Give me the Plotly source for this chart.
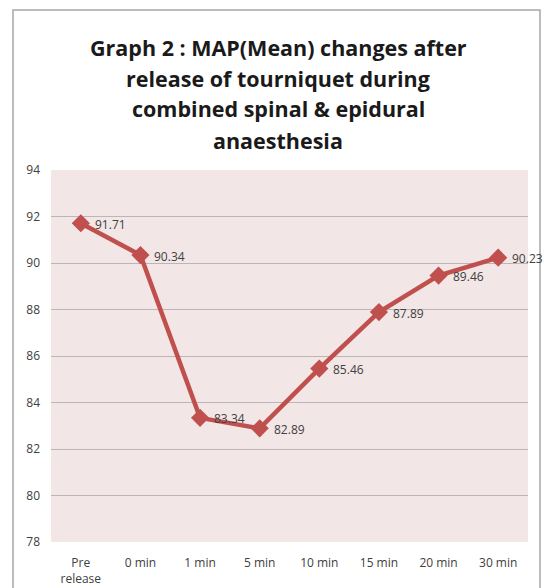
import plotly.graph_objects as go

# Time points after tourniquet release and mean arterial pressure values
categories = ["Pre<br>release", "0 min", "1 min", "5 min", "10 min", "15 min", "20 min", "30 min"]
map_values = [91.71, 90.34, 83.34, 82.89, 85.46, 87.89, 89.46, 90.23]
y_ticks = [78, 80, 82, 84, 86, 88, 90, 92, 94]
title_lines = [
    "Graph 2 : MAP(Mean) changes after",
    "release of tourniquet during",
    "combined spinal &amp; epidural",
    "anaesthesia",
]

W, H = 544, 588
ML, MR, MT, MB = 51, 16, 170, 46
pw = W - ML - MR
ph = H - MT - MB
FONT = "Open Sans, sans-serif"

def px_to_paper_x(px):
    return (px - ML) / pw

def px_to_paper_y(py):
    return (H - MB - py) / ph

fig = go.Figure()
fig.add_trace(go.Scatter(
    x=list(range(len(categories))),
    y=map_values,
    mode="lines+markers",
    line=dict(color="#C0504D", width=4.5),
    marker=dict(symbol="diamond", size=14, color="#C0504D"),
    showlegend=False,
))

# Value labels to the right of each point
for i, v in enumerate(map_values):
    fig.add_annotation(
        x=i, y=v, xref="x", yref="y",
        text=f"{v:.2f}", showarrow=False,
        xanchor="left", yanchor="middle",
        xshift=12, yshift=-1,
        font=dict(family=FONT, size=12, color="#404040"),
    )

# Outer chart frame
fig.add_shape(
    type="rect", xref="paper", yref="paper",
    x0=px_to_paper_x(13), x1=px_to_paper_x(540),
    y0=px_to_paper_y(600), y1=px_to_paper_y(10),
    line=dict(color="#A6A6A6", width=1.5), fillcolor="rgba(0,0,0,0)",
    layer="below",
)

# Title, one line per annotation for wider line spacing
for k, line in enumerate(title_lines):
    fig.add_annotation(
        xref="paper", yref="paper",
        x=px_to_paper_x(278), y=px_to_paper_y(47 + 31 * k),
        xanchor="center", yanchor="middle",
        text=f"<b>{line}</b>",
        showarrow=False, align="center",
        font=dict(family=FONT, size=21.5, color="#1a1a1a"),
    )

fig.update_layout(
    width=W, height=H,
    margin=dict(l=ML, r=MR, t=MT, b=MB, autoexpand=False),
    paper_bgcolor="white",
    plot_bgcolor="#F2E6E6",
    xaxis=dict(
        range=[-0.5, len(categories) - 0.5],
        tickvals=list(range(len(categories))),
        ticktext=categories,
        showgrid=False, zeroline=False,
        showline=False, automargin=False,
        tickfont=dict(family=FONT, size=12, color="#404040"),
        ticks="", ticklabelstandoff=12,
    ),
    yaxis=dict(
        range=[78, 94],
        tickvals=y_ticks,
        showgrid=True, gridcolor="#BDB5B5", gridwidth=1,
        zeroline=False, showline=False, automargin=False,
        tickfont=dict(family=FONT, size=12, color="#404040"),
        ticks="", ticklabelstandoff=10,
    ),
)

fig.write_html("out.html")
